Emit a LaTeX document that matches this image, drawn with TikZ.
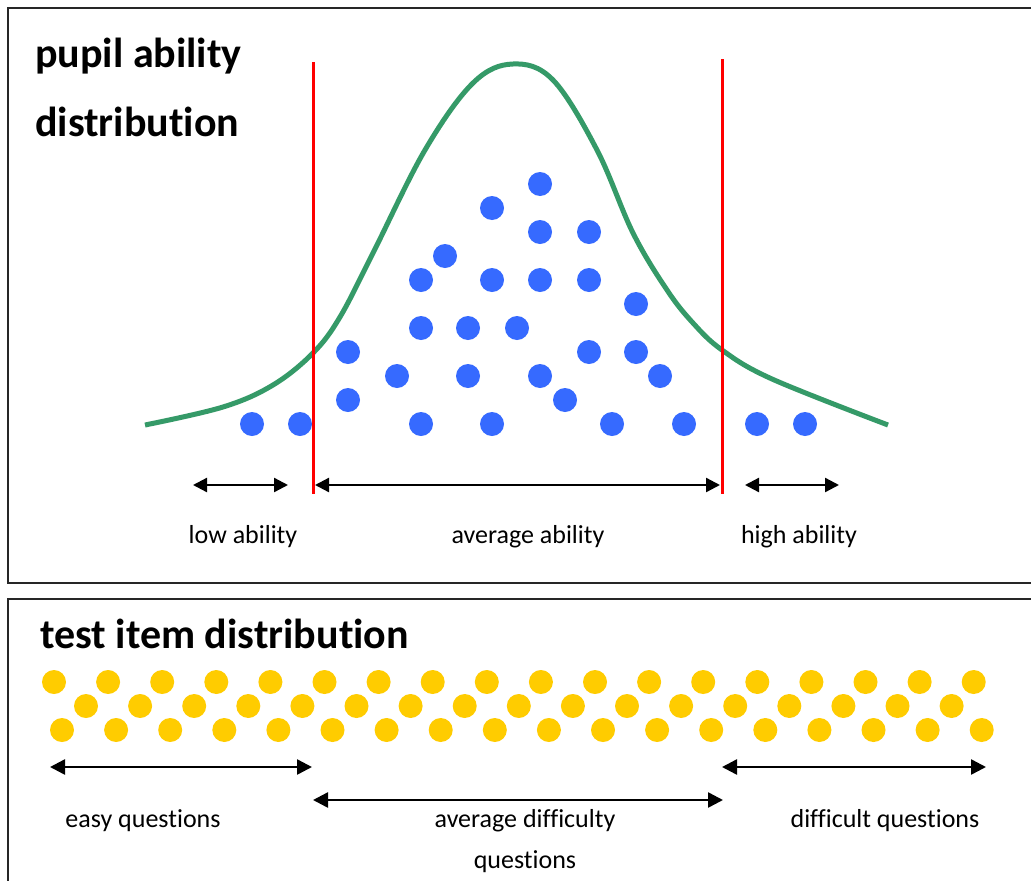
\documentclass[tikz,border=0pt]{standalone}
\usepackage{fontspec}
\setmainfont{Carlito}[Ligatures={NoCommon}]
\usetikzlibrary{arrows.meta}
\definecolor{bluedot}{RGB}{54,106,255}
\definecolor{yellowdot}{RGB}{255,204,0}
\definecolor{curvegreen}{RGB}{53,154,104}
\definecolor{redline}{RGB}{255,0,0}
\begin{document}
\begin{tikzpicture}[x=1pt,y=-1pt,
  box/.style={line width=2pt, draw=black!85},
  bdot/.style={circle, fill=bluedot, minimum size=24pt, inner sep=0pt},
  ydot/.style={circle, fill=yellowdot, minimum size=24pt, inner sep=0pt},
  dimtop/.style={line width=2.3pt, {Triangle[length=14pt,width=14pt]}-{Triangle[length=14pt,width=14pt]}},
  dimbot/.style={line width=2.5pt, {Triangle[length=15pt,width=15pt]}-{Triangle[length=15pt,width=15pt]}},
  divider/.style={line width=3pt, draw=redline},
  curve/.style={line width=5pt, draw=curvegreen},
  title/.style={font=\fontsize{42}{50}\selectfont\bfseries, anchor=base west, inner sep=0pt},
  lbl/.style={font=\fontsize{26}{31}\selectfont, anchor=base, inner sep=0pt}]
\useasboundingbox (0,0) rectangle (1031,881);
\fill[white] (0,0) rectangle (1031,881);
% boxes
\draw[box] (1031,8) -- (8,8) -- (8,583) -- (1031,583);
\draw[box] (1031,599) -- (8,599) -- (8,881);
% titles
\node[title] (t1) at (35,67) {pupil ability};
\node[title] (t2) at (35,136) {distribution};
\node[title] (t3) at (40,648) {test item distribution};
% curve
\draw[curve] plot[smooth, tension=0.6] coordinates {(145,425) (223,407) (273,385) (313,353) (340,317) (373,253) (425,150) (473,83) (513,64) (553,80) (597,150) (633,233) (667,290) (693,323) (722,350) (772,379) (888,425)};
% blue dots
\foreach \x/\y [count=\i] in {252/424,300/424,421/424,492/424,612/424,684/424,757/424,805/424,
  348/400,565/400,397/376,468/376,540/376,660/376,348/352,589/352,636/352,
  421/328,468/328,517/328,636/304,421/280,492/280,540/280,589/280,445/256,
  540/232,589/232,492/208,540/184}
  \node[bdot] (b\i) at (\x,\y) {};
% red dividers
\coordinate (r1a) at (313,62); \coordinate (r1b) at (313,494);
\coordinate (r2a) at (722,59); \coordinate (r2b) at (722,494);
\draw[divider] (r1a) -- (r1b);
\draw[divider] (r2a) -- (r2b);
% top arrows
\coordinate (la) at (193,485); \coordinate (lb) at (288,485);
\coordinate (ma) at (315,485); \coordinate (mb) at (720,485);
\coordinate (ha) at (745,485); \coordinate (hb) at (839,485);
\draw[dimtop] (la) -- (lb);
\draw[dimtop] (ma) -- (mb);
\draw[dimtop] (ha) -- (hb);
\node[lbl] (l1) at (243,543) {low ability};
\node[lbl] (l2) at (528,543) {average ability};
\node[lbl] (l3) at (799,543) {high ability};
% yellow dots
\foreach \i in {0,...,17} \node[ydot] (ya\i) at ({54+54.1*\i},682) {};
\foreach \i in {0,...,16} \node[ydot] (yb\i) at ({86+54.1*\i},706) {};
\foreach \i in {0,...,17} \node[ydot] (yc\i) at ({62+54.1*\i},730) {};
% bottom arrows
\coordinate (ea) at (50,767); \coordinate (eb) at (312,767);
\coordinate (aa) at (313,800); \coordinate (ab) at (723,800);
\coordinate (da) at (722,767); \coordinate (db) at (986,767);
\draw[dimbot] (ea) -- (eb);
\draw[dimbot] (aa) -- (ab);
\draw[dimbot] (da) -- (db);
\node[lbl] (q1) at (143,827) {easy questions};
\node[lbl] (q2) at (525,827) {average difficulty};
\node[lbl] (q3) at (525,868) {questions};
\node[lbl] (q4) at (885,827) {difficult questions};
\end{tikzpicture}
\end{document}
